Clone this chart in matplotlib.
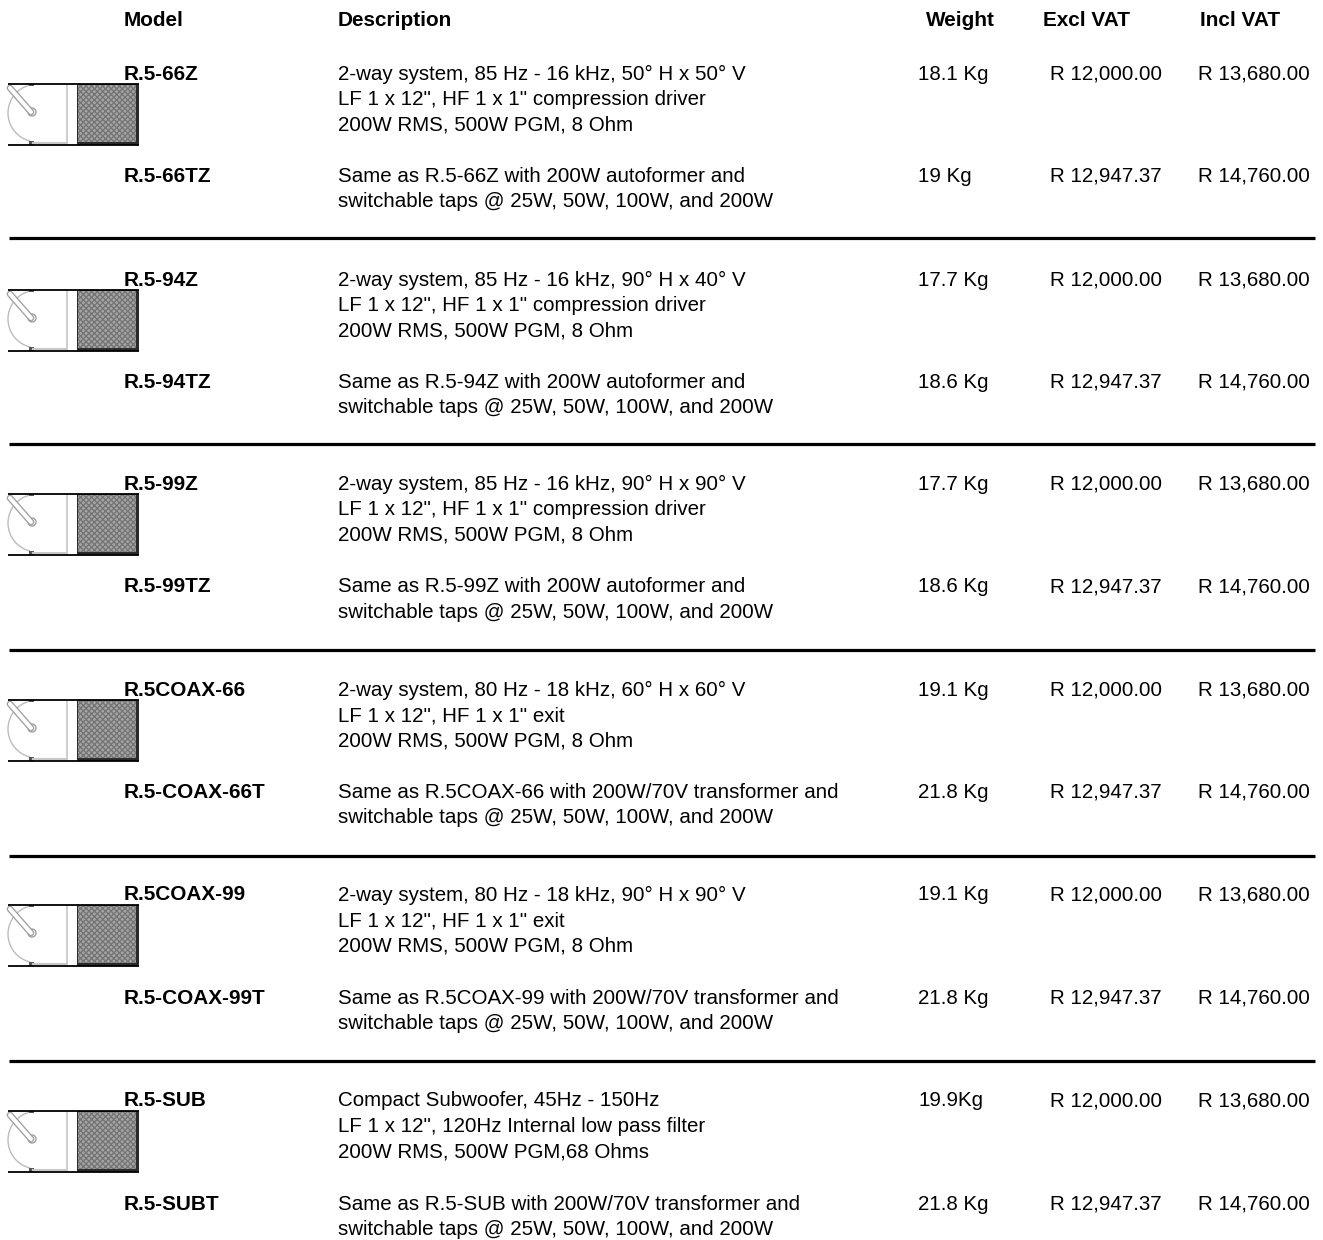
#!/usr/bin/env python3
# -*- coding:utf-8 -*-
import matplotlib
matplotlib.use("Agg")
import matplotlib.pyplot as plt
from matplotlib.patches import Rectangle, Arc, Circle

W, H = 1323, 1240

headers = ["Model", "Description", "Weight", "Excl VAT", "Incl VAT"]

models = ["R.5-66Z", "R.5-66TZ", "R.5-94Z", "R.5-94TZ", "R.5-99Z", "R.5-99TZ",
          "R.5COAX-66", "R.5-COAX-66T", "R.5COAX-99", "R.5-COAX-99T",
          "R.5-SUB", "R.5-SUBT"]

taps = "switchable taps @ 25W, 50W, 100W, and 200W"
rms = "200W RMS, 500W PGM, 8 Ohm"
comp = 'LF 1 x 12", HF 1 x 1" compression driver'
exit_ = 'LF 1 x 12", HF 1 x 1" exit'

descriptions = [
    ["2-way system, 85 Hz - 16 kHz, 50° H x 50° V", comp, rms],
    ["Same as R.5-66Z with 200W autoformer and", taps],
    ["2-way system, 85 Hz - 16 kHz, 90° H x 40° V", comp, rms],
    ["Same as R.5-94Z with 200W autoformer and", taps],
    ["2-way system, 85 Hz - 16 kHz, 90° H x 90° V", comp, rms],
    ["Same as R.5-99Z with 200W autoformer and", taps],
    ["2-way system, 80 Hz - 18 kHz, 60° H x 60° V", exit_, rms],
    ["Same as R.5COAX-66 with 200W/70V transformer and", taps],
    ["2-way system, 80 Hz - 18 kHz, 90° H x 90° V", exit_, rms],
    ["Same as R.5COAX-99 with 200W/70V transformer and", taps],
    ["Compact Subwoofer, 45Hz - 150Hz", 'LF 1 x 12", 120Hz Internal low pass filter',
     "200W RMS, 500W PGM,68 Ohms"],
    ["Same as R.5-SUB with 200W/70V transformer and", taps],
]

weights = ["18.1 Kg", "19 Kg", "17.7 Kg", "18.6 Kg", "17.7 Kg", "18.6 Kg",
           "19.1 Kg", "21.8 Kg", "19.1 Kg", "21.8 Kg", "19.9Kg", "21.8 Kg"]
excl_vat = ["R 12,000.00", "R 12,947.37"] * 6
incl_vat = ["R 13,680.00", "R 14,760.00"] * 6

# centre of first text line of each row, pixels from the top
row_y = [74, 176, 280, 382, 484, 587, 690, 792, 895, 998, 1101, 1204]
rule_y = [238, 444, 650, 856, 1061]
line_step = 25.6
fs = 14.75
fs_bold = 14.95

plt.rcParams["font.family"] = ["Liberation Sans", "DejaVu Sans"]
fig = plt.figure(figsize=(W / 100, H / 100), dpi=100)
ax = fig.add_axes([0, 0, 1, 1])
ax.set_xlim(0, W)
ax.set_ylim(H, 0)
ax.axis("off")


def draw_icon(top):
    bottom = top + 61
    gray = "#bcbcbc"
    # cabinet back and grille
    ax.add_patch(Rectangle((65.5, top), 2.5, 61, fc="#cfcfcf", ec="none"))
    ax.add_patch(Rectangle((77, top), 62, 61, fc="#2a2a2a", ec="none"))
    ax.add_patch(Rectangle((77.5, top + 1), 58.5, 57, fc="#a6a6a6", ec="none"))
    ax.add_patch(Rectangle((77.5, top + 1), 58.5, 57, fc="none", ec="#757575",
                           hatch="xxxxxx", lw=0))
    # curved back and driver
    ax.add_patch(Arc((36.8, top + 29), 57.6, 57.6, theta1=103, theta2=257, ec=gray, lw=1.0))
    ax.plot([10, 31], [top + 4, top + 28], color="#a0a0a0", lw=4.8, solid_capstyle="round")
    ax.plot([10, 31], [top + 4, top + 28], color="white", lw=2.9, solid_capstyle="round")
    ax.add_patch(Circle((32, top + 28), 4, fc="white", ec="#a0a0a0", lw=1))
    ax.add_patch(Circle((32, top + 28), 1.5, fc="#d0d0d0", ec="#a0a0a0", lw=0.6))
    ax.plot([33, 66], [bottom - 2, bottom - 2], color="#c8c8c8", lw=1.5)
    ax.add_patch(Rectangle((29, top), 5, 2, fc="#555555", ec="none"))
    ax.add_patch(Rectangle((29, bottom - 4), 5, 4, fc="#555555", ec="none"))
    # top and bottom edges
    ax.plot([8, 139], [top, top], color="black", lw=1.3, solid_capstyle="butt")
    ax.plot([8, 139], [bottom, bottom], color="black", lw=1.3, solid_capstyle="butt")


for x, label, ha in zip([124, 338, 995, 1043, 1200], headers,
                        ["left", "left", "right", "left", "left"]):
    ax.text(x, 20.5, label, ha=ha, va="center", fontsize=fs_bold, fontweight="bold")

for i, model in enumerate(models):
    y = row_y[i]
    if i % 2 == 0:
        draw_icon(y + 10)
    ax.text(124, y, model, ha="left", va="center", fontsize=fs_bold, fontweight="bold", zorder=5)
    for j, line in enumerate(descriptions[i]):
        ax.text(338, y + j * line_step, line, ha="left", va="center", fontsize=fs)
    ax.text(918, y, weights[i], ha="left", va="center", fontsize=fs)
    ax.text(1162, y, excl_vat[i], ha="right", va="center", fontsize=fs)
    ax.text(1310, y, incl_vat[i], ha="right", va="center", fontsize=fs)

for y in rule_y:
    ax.plot([9, 1315], [y, y], color="black", lw=2.3, solid_capstyle="butt")

fig.savefig("out.png", dpi=100)
